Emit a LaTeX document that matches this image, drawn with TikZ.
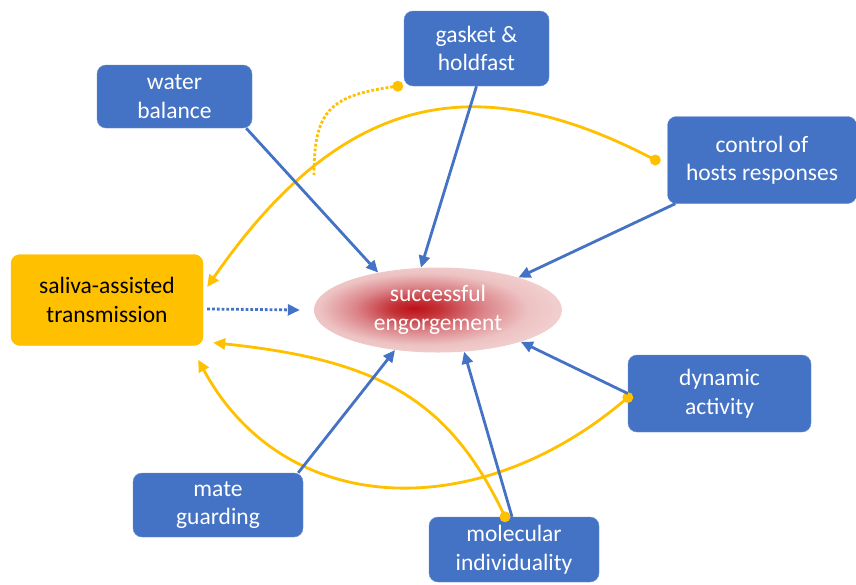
\documentclass[tikz,border=0pt]{standalone}
\usepackage{fontspec}
\setmainfont{Carlito}
\usetikzlibrary{arrows.meta,shapes.geometric,calc,positioning}
\definecolor{boxBlue}{RGB}{68,114,196}
\definecolor{linkBlue}{RGB}{68,114,196}
\definecolor{salivaYellow}{RGB}{255,192,0}
\pgfdeclareradialshading{engShade}{\pgfpoint{-5bp}{1bp}}{rgb(0bp)=(0.74,0.07,0.1); rgb(5bp)=(0.77,0.2,0.22); rgb(13bp)=(0.86,0.52,0.54); rgb(21bp)=(0.93,0.76,0.76); rgb(28bp)=(0.95,0.82,0.82); rgb(50bp)=(0.95,0.82,0.82)}
\tikzset{factor/.style={fill=boxBlue, draw=boxBlue!80!white, text=white, align=center, rounded corners=9pt, font=\fontsize{23.5}{28.5}\selectfont}}
\tikzset{saliva/.style={factor, fill=salivaYellow, draw=salivaYellow, text=black}}
\tikzstyle{arrow} = [-{Triangle[length=12pt,width=11pt]}, line width=2.8pt, linkBlue]
\tikzstyle{yarrow} = [-{Triangle[length=12pt,width=11pt]}, line width=2.8pt, salivaYellow]
\tikzstyle{ydot} = [fill=salivaYellow, draw=none]

\begin{document}
\begin{tikzpicture}[x=1pt,y=-1pt]
	\useasboundingbox (0,0) rectangle (856,584);
	% Nodes
		\node (eng) [ellipse, minimum width=248pt, minimum height=85pt, shading=engShade, text=white, align=center, font=\fontsize{23.5}{28.5}\selectfont] at (438,310) {successful\\ engorgement};

		\node (water) [factor, minimum width=155pt, minimum height=63pt] at (174.5,96.5) {water\\ balance};
		\node (gasket) [factor, minimum width=145pt, minimum height=75pt] at (476.5,48.5) {gasket \&\\ holdfast};
		\node (control) [factor, minimum width=189pt, minimum height=87pt] at (762,160) {control of\\ hosts responses};
		\node (salivanode) [saliva, minimum width=192pt, minimum height=91pt] at (107,300) {saliva-assisted\\ transmission};
		\node (dynamic) [factor, minimum width=183pt, minimum height=77pt] at (719.5,393.5) {dynamic\\ activity};
		\node (mate) [factor, minimum width=170pt, minimum height=64pt] at (218,505) {mate\\ guarding};
		\node (molecular) [factor, minimum width=170pt, minimum height=65pt] at (514,549.5) {molecular\\ individuality};

		% Connectors
		\begin{scope}
		\draw [yarrow] ([xshift=-12pt]control.west) .. controls (480,68) and (345,88) .. ([xshift=4pt,yshift=13pt]salivanode.east);
		\fill [ydot] ([xshift=-12pt]control.west) circle (5.5pt);

		\draw [salivaYellow, line width=2.8pt, dotted] ([xshift=-6pt]gasket.south west) .. controls (330,95) and (314,110) .. (314,175);
		\fill [ydot] ([xshift=-6pt]gasket.south west) circle (5.5pt);

		\draw [yarrow] ([xshift=-9pt]molecular.north) .. controls (450,400) and (380,360) .. ([xshift=10pt,yshift=3pt]salivanode.south east);
		\fill [ydot] ([xshift=-9pt]molecular.north) circle (5.5pt);

		\draw [yarrow] ([yshift=-4pt]dynamic.west) .. controls (480,525) and (285,520) .. ([xshift=-5pt,yshift=-14pt]salivanode.south east);
		\fill [ydot] ([yshift=-4pt]dynamic.west) circle (5.5pt);

		\draw [arrow] ([xshift=-6pt]water.south east) -- (eng.148);
		\draw [arrow] (gasket.south) -- (eng.112);
		\draw [arrow] ([xshift=8pt]control.south west) -- (eng.22);
		\draw [arrow] (dynamic.west) -- (eng.-21);
		\draw [arrow] ([xshift=-2pt]molecular.north) -- (eng.-58);
		\draw [arrow] ([xshift=-5pt]mate.north east) -- (eng.-137);
		\draw [arrow, dotted] ([xshift=4pt,yshift=-9pt]salivanode.east) -- ([xshift=-14pt]eng.west);
	\end{scope}

\end{tikzpicture}
\end{document}
